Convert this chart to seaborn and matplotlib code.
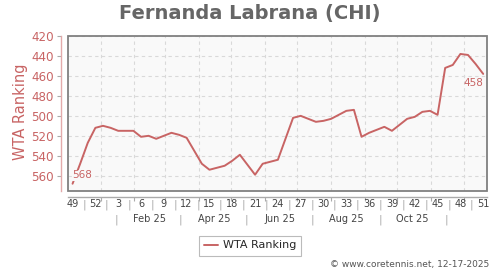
import matplotlib
matplotlib.use("Agg")
import matplotlib.pyplot as plt
import seaborn as sns
import pandas as pd
import numpy as np
from matplotlib.transforms import blended_transform_factory
from matplotlib.patches import Rectangle

# ---------------- data ----------------
title = "Fernanda Labrana (CHI)"
first_week_date = "2024-12-06"          # date of the first weekly point (week 49, 2024)
ranking = [568, 548, 527, 512, 510, 512, 515, 515, 515, 521,
           520, 523, 520, 517, 519, 522, 535, 548, 554, 552,
           550, 545, 539, 549, 559, 548, 546, 544, 523, 502,
           500, 503, 506, 505, 503, 499, 495, 494, 521, 517,
           514, 511, 515, 509, 503, 501, 496, 495, 499, 452,
           449, 438, 439, 448, 458]
week_tick_labels = ["49", "52", "3", "6", "9", "12", "15", "18", "21", "24",
                    "27", "30", "33", "36", "39", "42", "45", "48", "51"]
month_labels = ["Feb 25", "Apr 25", "Jun 25", "Aug 25", "Oct 25"]
month_label_dates = ["2025-02-15", "2025-04-15", "2025-06-15", "2025-08-15", "2025-10-15"]
month_sep_dates = ["2025-01-15", "2025-03-15", "2025-05-15", "2025-07-15", "2025-09-15", "2025-11-15"]
month_grid_dates = ["2025-%02d-01" % m for m in range(1, 13)]
y_ticks = [420, 440, 460, 480, 500, 520, 540, 560]
credit = "\u00a9 www.coretennis.net, 12-17-2025"

RED = "#c86464"
GRAY_TXT = "#444444"

sns.set_style("white")
plt.rcParams["font.family"] = ["DejaVu Sans"]

base = pd.Timestamp(first_week_date)
def date_pos(d):
    return (pd.Timestamp(d) - base).days / 7.0

df = pd.DataFrame({"week": np.arange(len(ranking)), "WTA Ranking": ranking})

fig = plt.figure(figsize=(5, 2.7), dpi=100)
ax = fig.add_axes([0.136, 0.2937, 0.838, 0.573])
ax.set_facecolor("#f9f9f9")

sns.lineplot(data=df, x="week", y="WTA Ranking", ax=ax, color=RED,
             linewidth=1.4, label="WTA Ranking", zorder=3)

ax.set_xlim(-0.6, 54.5)
ax.set_ylim(575, 420)
ax.set_yticks(y_ticks)
ax.set_xticks([date_pos(d) for d in month_grid_dates])
ax.set_xticklabels([])
ax.set_xlabel("")
ax.set_ylabel("")

ax.grid(True, color="#d9d9d9", linestyle=(0, (3, 3)), linewidth=0.8)
ax.set_axisbelow(True)

for s in ["top", "right"]:
    ax.spines[s].set_visible(False)
ax.spines["left"].set_position(("outward", 5))
ax.spines["left"].set_color("#e3aaaa")
ax.spines["left"].set_linewidth(1.0)
ax.spines["bottom"].set_position(("outward", 4.5))
ax.spines["bottom"].set_color("#aaaaaa")
ax.spines["bottom"].set_linewidth(1.0)

ax.tick_params(axis="y", length=3, color="#aaaaaa", labelcolor=RED,
               labelsize=8.6, pad=2, left=True)
ax.tick_params(axis="x", length=3, color="#aaaaaa", bottom=True)

ax.add_patch(Rectangle((0, 0), 1, 1, transform=ax.transAxes, fill=False,
                       edgecolor="#808080", linewidth=1.3, clip_on=False, zorder=6))

# week labels row
tr = blended_transform_factory(ax.transData, fig.transFigure)
for k, lab in enumerate(week_tick_labels):
    ax.text(3 * k, 1 - 204.3 / 270, lab, transform=tr, ha="center", va="center",
            fontsize=7, color=GRAY_TXT)
    if k < len(week_tick_labels) - 1:
        ax.text(3 * k + 1.5, 1 - 204.3 / 270, "|", transform=tr, ha="center",
                va="center", fontsize=8, color="#aaaaaa")
# month labels row
for lab, d in zip(month_labels, month_label_dates):
    ax.text(date_pos(d), 1 - 219.5 / 270, lab, transform=tr, ha="center",
            va="center", fontsize=7, color=GRAY_TXT)
for d in month_sep_dates:
    ax.text(date_pos(d), 1 - 219.5 / 270, "|", transform=tr, ha="center",
            va="center", fontsize=8, color="#aaaaaa")

# end labels
ax.annotate(f"{ranking[0]}", (0, ranking[0]), xytext=(0, 6), textcoords="offset points",
            ha="left", va="center", fontsize=7.5, color=RED, zorder=4,
            bbox=dict(boxstyle="square,pad=0.05", facecolor="#f9f9f9", edgecolor="none"))
ax.annotate(f"{ranking[-1]}", (len(ranking) - 1, ranking[-1]), xytext=(0, -6.8),
            textcoords="offset points", ha="right", va="center", fontsize=7.5,
            color=RED, zorder=4)

# title, y label, credit
fig.text(0.5, 1 - 13.5 / 270, title, ha="center", va="center", fontsize=14,
         fontweight="bold", color="#666666")
fig.text(0.042, 1 - 111.7 / 270, "WTA Ranking", rotation=90, ha="center",
         va="center", fontsize=10.5, color=RED)
fig.text(0.978, 1 - 264 / 270, credit, ha="right", va="center", fontsize=6.5,
         color="#555555")

leg = ax.legend(loc="center", bbox_to_anchor=(0.5, 1 - 245.5 / 270),
                bbox_transform=fig.transFigure, frameon=True, fancybox=False,
                edgecolor="#aaaaaa", fontsize=8, handlelength=1.3,
                handletextpad=0.4, borderpad=0.45)
leg.get_frame().set_linewidth(0.8)

fig.savefig("out.png", dpi=100, facecolor="white")
